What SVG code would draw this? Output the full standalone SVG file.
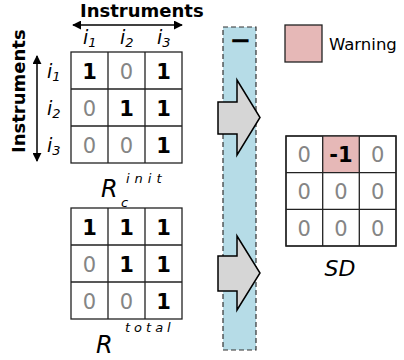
<svg xmlns="http://www.w3.org/2000/svg" width="404" height="360" viewBox="0 0 404 360">
  <defs>
    <marker id="tip" viewBox="0 0 10 10" refX="9" refY="5" markerWidth="9" markerHeight="9" markerUnits="userSpaceOnUse" orient="auto-start-reverse">
      <path d="M0,0 L10,5 L0,10 Z" fill="#000"/>
    </marker>
    <style>
      text { font-family: "DejaVu Sans", "Liberation Sans", sans-serif; }
      .lab { font-size: 18px; font-weight: bold; }
      .idx { font-size: 19px; font-style: italic; }
      .sub { font-size: 13px; }
      .one { font-size: 21px; font-weight: bold; fill: #000; text-anchor: middle; }
      .zero { font-size: 21px; fill: #858585; text-anchor: middle; }
      .grid { fill: #fff; stroke: #222; stroke-width: 1.3; }
      .big { font-size: 24px; font-style: italic; }
      .sup { font-size: 13px; font-style: italic; }
      .block { fill: #d6d6d6; stroke: #000; stroke-width: 1.5; stroke-linejoin: miter; }
    </style>
  </defs>

  <!-- axis labels -->
  <g id="axes">
    <text class="lab" x="80" y="17">Instruments</text>
    <text class="lab" transform="translate(25,153) rotate(-90)">Instruments</text>
    <text class="idx" x="83" y="44">i<tspan class="sub" dy="3">1</tspan></text>
    <text class="idx" x="120" y="44">i<tspan class="sub" dy="3">2</tspan></text>
    <text class="idx" x="157" y="44">i<tspan class="sub" dy="3">3</tspan></text>
    <text class="idx" x="47" y="78">i<tspan class="sub" dy="3">1</tspan></text>
    <text class="idx" x="47" y="115">i<tspan class="sub" dy="3">2</tspan></text>
    <text class="idx" x="47" y="152">i<tspan class="sub" dy="3">3</tspan></text>
  </g>

  <g id="connectors">
    <line x1="73" y1="25" x2="182" y2="25" stroke="#000" stroke-width="1.5" marker-start="url(#tip)" marker-end="url(#tip)"/>
    <line x1="37" y1="56" x2="37" y2="161" stroke="#000" stroke-width="1.5" marker-start="url(#tip)" marker-end="url(#tip)"/>
  </g>

  <!-- initial relation matrix -->
  <g id="r-init">
    <rect class="grid" x="71" y="52" width="111" height="111"/>
    <path d="M108,52 V163 M145,52 V163 M71,89 H182 M71,126 H182" stroke="#222" stroke-width="1.3"/>
    <text class="one" x="89.5" y="78.5">1</text>
    <text class="zero" x="126.5" y="78.5">0</text>
    <text class="one" x="163.5" y="78.5">1</text>
    <text class="zero" x="89.5" y="115.5">0</text>
    <text class="one" x="126.5" y="115.5">1</text>
    <text class="one" x="163.5" y="115.5">1</text>
    <text class="zero" x="89.5" y="152.5">0</text>
    <text class="zero" x="126.5" y="152.5">0</text>
    <text class="one" x="163.5" y="152.5">1</text>
    <text class="big" x="101" y="197">R</text>
    <text class="sup" x="126" y="183" letter-spacing="5">init</text>
    <text class="sup" x="121" y="207" font-size="15">c</text>
  </g>

  <!-- total relation matrix -->
  <g id="r-total">
    <rect class="grid" x="71" y="208" width="111" height="111"/>
    <path d="M108,208 V319 M145,208 V319 M71,245 H182 M71,282 H182" stroke="#222" stroke-width="1.3"/>
    <text class="one" x="89.5" y="234.5">1</text>
    <text class="one" x="126.5" y="234.5">1</text>
    <text class="one" x="163.5" y="234.5">1</text>
    <text class="zero" x="89.5" y="271.5">0</text>
    <text class="one" x="126.5" y="271.5">1</text>
    <text class="one" x="163.5" y="271.5">1</text>
    <text class="zero" x="89.5" y="308.5">0</text>
    <text class="zero" x="126.5" y="308.5">0</text>
    <text class="one" x="163.5" y="308.5">1</text>
    <text class="big" x="96" y="353">R</text>
    <text class="sup" x="125" y="332" letter-spacing="4">total</text>
  </g>

  <!-- subtraction operator band -->
  <g id="minus">
    <rect x="223" y="27" width="33" height="323" fill="#b6dce7" stroke="#333" stroke-width="1.2" stroke-dasharray="5,3"/>
    <text x="240.5" y="49" font-size="26" font-weight="bold" text-anchor="middle">−</text>
    <polygon class="block" points="218,102 237,102 237,80 260,117.5 237,155 237,134 218,134"/>
    <polygon class="block" points="218,256 237,256 237,236 260,273 237,310 237,291 218,291"/>
  </g>

  <!-- legend -->
  <g id="legend">
    <rect x="285" y="25" width="37" height="37" fill="#e6b8b7" stroke="#222" stroke-width="1.3"/>
    <text x="329" y="50" font-size="16.5">Warning</text>
  </g>

  <!-- difference matrix -->
  <g id="sd">
    <rect class="grid" x="286" y="136" width="110" height="110"/>
    <rect x="322.7" y="136" width="36.6" height="36.7" fill="#e6b8b7"/>
    <path d="M322.7,136 V246 M359.3,136 V246 M286,172.7 H396 M286,209.3 H396" stroke="#222" stroke-width="1.3"/>
    <rect x="286" y="136" width="110" height="110" fill="none" stroke="#222" stroke-width="1.3"/>
    <text class="zero" x="304.3" y="162">0</text>
    <text class="one" x="341" y="162">-1</text>
    <text class="zero" x="377.7" y="162">0</text>
    <text class="zero" x="304.3" y="198.5">0</text>
    <text class="zero" x="341" y="198.5">0</text>
    <text class="zero" x="377.7" y="198.5">0</text>
    <text class="zero" x="304.3" y="235.5">0</text>
    <text class="zero" x="341" y="235.5">0</text>
    <text class="zero" x="377.7" y="235.5">0</text>
    <text x="340" y="276" font-size="22" font-style="italic" text-anchor="middle">SD</text>
  </g>
</svg>
